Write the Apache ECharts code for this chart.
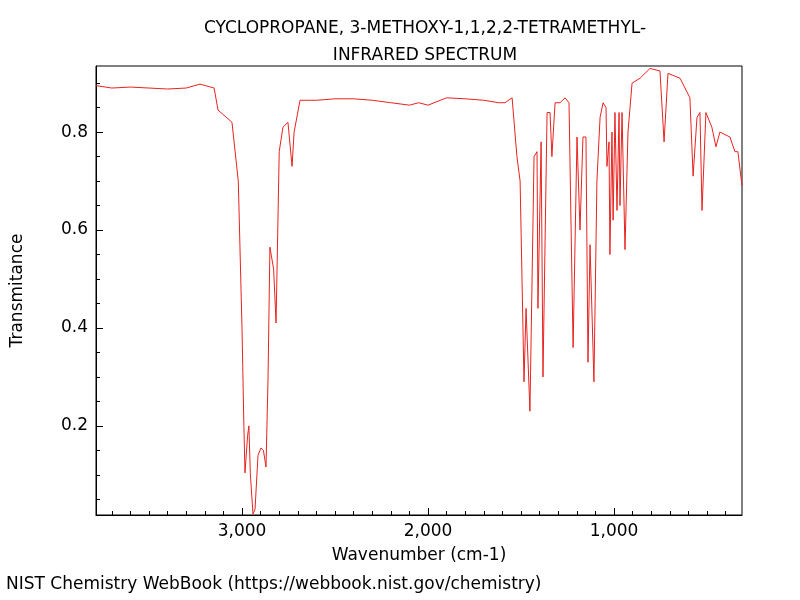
<!DOCTYPE html>
<html>
<head>
<meta charset="utf-8">
<script src="https://cdn.jsdelivr.net/npm/echarts@6/dist/echarts.min.js"></script>
<style>html,body{margin:0;background:#fff}#main{width:800px;height:600px}</style>
</head>
<body>
<div id="main"></div>
<script>
// wavenumber (cm-1) and transmittance
const wavenumbers = [3785,3700,3600,3500,3400,3300,3226,3150,3129,3054,3020,3000,2990,2984,2970,2963,2955,2941,2930,2914,2898,2885,2871,2860,2850,2830,2817,2800,2780,2753,2731,2720,2688,2600,2500,2400,2300,2200,2100,2050,2000,1900,1800,1700,1620,1586,1548,1522,1505,1484,1473,1452,1430,1414,1409,1392,1382,1360,1344,1334,1317,1290,1263,1242,1220,1199,1183,1167,1151,1140,1129,1108,1092,1075,1059,1043,1038,1027,1022,1011,1005,995,984,973,968,957,941,925,903,860,807,753,731,710,645,592,575,554,538,527,506,474,452,431,377,350,334,312];
const transmittance = [0.895,0.89,0.892,0.89,0.888,0.89,0.898,0.89,0.845,0.82,0.7,0.4,0.2,0.104,0.18,0.2,0.1,0.02,0.03,0.14,0.155,0.15,0.116,0.3,0.565,0.52,0.41,0.76,0.81,0.82,0.73,0.8,0.865,0.865,0.868,0.868,0.865,0.86,0.855,0.86,0.855,0.87,0.868,0.865,0.86,0.86,0.87,0.75,0.7,0.29,0.44,0.23,0.75,0.76,0.44,0.78,0.3,0.84,0.84,0.75,0.86,0.86,0.87,0.86,0.36,0.79,0.6,0.79,0.79,0.33,0.57,0.29,0.7,0.83,0.86,0.85,0.73,0.78,0.55,0.8,0.62,0.84,0.64,0.84,0.65,0.84,0.56,0.8,0.9,0.91,0.93,0.925,0.78,0.92,0.91,0.87,0.71,0.83,0.84,0.64,0.84,0.81,0.77,0.8,0.79,0.76,0.76,0.69];
const xTicks = [1000, 2000, 3000];
const xMinorTicks = [400,500,600,700,800,900,1100,1200,1300,1400,1500,1600,1700,1800,1900,2100,2200,2300,2400,2500,2600,2700,2800,2900,3100,3200,3300,3400,3500,3600,3700];
const yTicks = [0.2, 0.4, 0.6, 0.8];
const yMinorTicks = [0.05, 0.1, 0.15, 0.25, 0.3, 0.35, 0.45, 0.5, 0.55, 0.65, 0.7, 0.75, 0.85, 0.9];

let seriesData = wavenumbers.map((w, i) => [w, transmittance[i]]);
let font = 'DejaVu Sans';
let xMin = 312, xMax = 3785, yMin = 0.018, yMax = 0.935;
let myChart = echarts.init(document.getElementById('main'));
let option = {
    animation: false,
    title: {
        text: 'CYCLOPROPANE, 3-METHOXY-1,1,2,2-TETRAMETHYL-\nINFRARED SPECTRUM',
        left: 420, top: 10, textAlign: 'center',
        textStyle: {fontFamily: font, fontSize: 17, fontWeight: 'normal', color: '#000', lineHeight: 27}
    },
    graphic: [{
        type: 'text', left: 6, top: 576,
        style: {text: 'NIST Chemistry WebBook (https://webbook.nist.gov/chemistry)', font: '17px DejaVu Sans', fill: '#000'}
    }],
    grid: {left: 96, right: 58, top: 66, bottom: 85, show: true, borderColor: '#000', borderWidth: 1},
    xAxis: [{
        type: 'value', inverse: true, min: xMin, max: xMax,
        name: 'Wavenumber (cm-1)', nameLocation: 'middle', nameGap: 32,
        nameTextStyle: {fontFamily: font, fontSize: 17, color: '#000'},
        axisLine: {lineStyle: {color: '#000'}},
        axisTick: {inside: true, length: 7, lineStyle: {color: '#000'}, customValues: xTicks},
        splitLine: {show: false},
        axisLabel: {fontFamily: font, fontSize: 17, color: '#000', customValues: xTicks}
    }, {
        type: 'value', inverse: true, min: xMin, max: xMax, position: 'bottom',
        axisLine: {show: false},
        axisTick: {inside: true, length: 4, lineStyle: {color: '#000'}, customValues: xMinorTicks},
        axisLabel: {show: false, customValues: xMinorTicks},
        splitLine: {show: false}
    }],
    yAxis: [{
        type: 'value', min: yMin, max: yMax,
        name: 'Transmitance', nameLocation: 'middle', nameGap: 70,
        nameTextStyle: {fontFamily: font, fontSize: 17, color: '#000'},
        axisLine: {lineStyle: {color: '#000'}},
        axisTick: {inside: true, length: 7, lineStyle: {color: '#000'}, customValues: yTicks},
        axisLabel: {fontFamily: font, fontSize: 17, color: '#000', customValues: yTicks,
            formatter: v => v.toFixed(1)},
        splitLine: {show: false}
    }, {
        type: 'value', min: yMin, max: yMax, position: 'left',
        axisLine: {show: false},
        axisTick: {inside: true, length: 4, lineStyle: {color: '#000'}, customValues: yMinorTicks},
        axisLabel: {show: false, customValues: yMinorTicks},
        splitLine: {show: false}
    }],
    series: [{
        type: 'line', data: seriesData, symbol: 'none',
        lineStyle: {color: '#e8231f', width: 1}
    }]
};
myChart.setOption(option);
</script>
</body>
</html>
